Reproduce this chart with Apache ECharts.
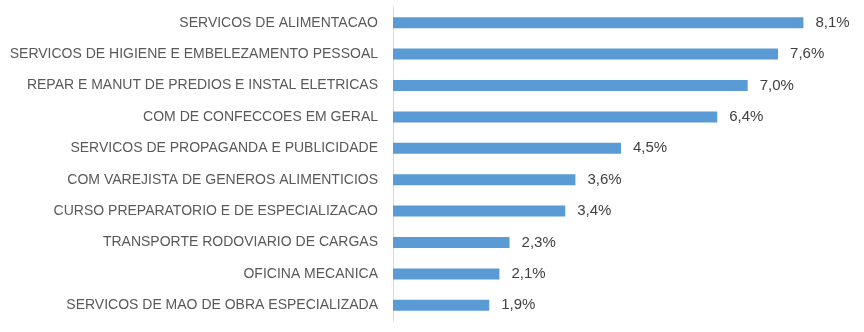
<!DOCTYPE html>
<html>
<head>
<meta charset="utf-8">
<script src="https://cdn.jsdelivr.net/npm/echarts@6/dist/echarts.min.js"></script>
<style>
  html, body { margin: 0; padding: 0; background: #ffffff; }
  #chart { width: 864px; height: 332px; }
</style>
</head>
<body>
<div id="chart"></div>
<script>
// Activities, top to bottom
const categories = [
  'SERVICOS DE ALIMENTACAO',
  'SERVICOS DE HIGIENE E EMBELEZAMENTO PESSOAL',
  'REPAR E MANUT DE PREDIOS E INSTAL ELETRICAS',
  'COM DE CONFECCOES EM GERAL',
  'SERVICOS DE PROPAGANDA E PUBLICIDADE',
  'COM VAREJISTA DE GENEROS ALIMENTICIOS',
  'CURSO PREPARATORIO E DE ESPECIALIZACAO',
  'TRANSPORTE RODOVIARIO DE CARGAS',
  'OFICINA MECANICA',
  'SERVICOS DE MAO DE OBRA ESPECIALIZADA'
];
// Share of each activity, in percent
const shares = [8.1, 7.6, 7.0, 6.4, 4.5, 3.6, 3.4, 2.3, 2.1, 1.9];

const FONT = '"Liberation Sans", sans-serif';

const chart = echarts.init(document.getElementById('chart'), null, { renderer: 'canvas' });
chart.setOption({
  animation: false,
  grid: {
    left: 393, top: 7, width: 456, height: 314,
    containLabel: false, outerBoundsMode: 'none'
  },
  xAxis: {
    type: 'value', min: 0, max: 9, show: false
  },
  yAxis: {
    type: 'category',
    inverse: true,
    data: categories,
    axisLine: { show: true, lineStyle: { color: '#d9d9d9', width: 1 } },
    axisTick: { show: false },
    axisLabel: { color: '#595959', fontSize: 14, fontFamily: FONT, margin: 15 }
  },
  series: [{
    type: 'bar',
    data: shares,
    barWidth: 11,
    itemStyle: { color: '#5b9bd5' },
    label: {
      show: true, position: 'right', distance: 12,
      color: '#404040', fontSize: 15, fontFamily: FONT,
      formatter: p => p.value.toFixed(1).replace('.', ',') + '%'
    }
  }]
});
</script>
</body>
</html>
